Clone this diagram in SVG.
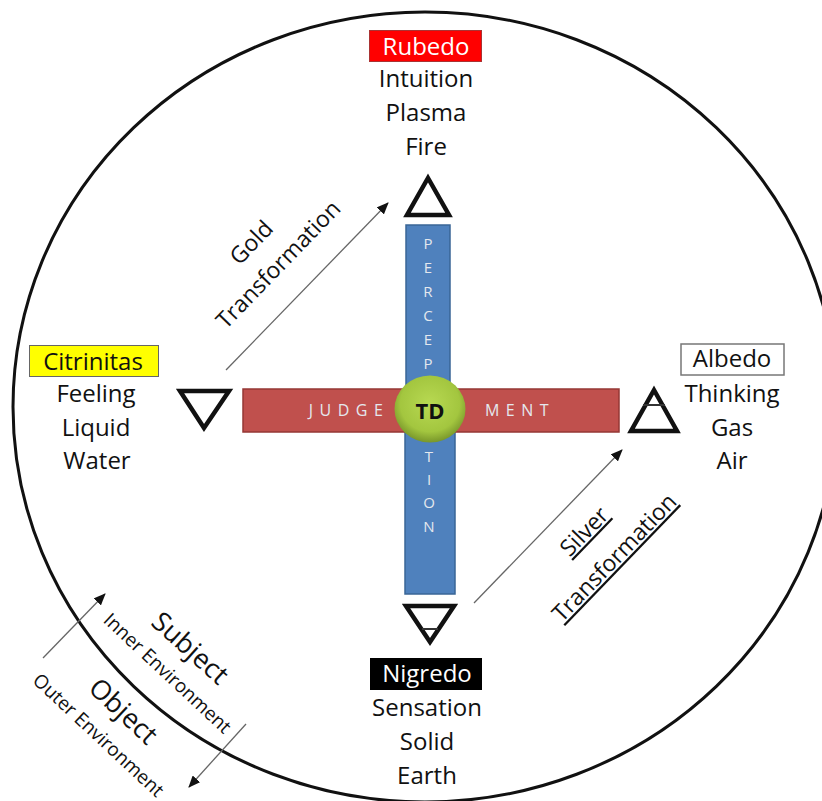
<svg xmlns="http://www.w3.org/2000/svg" width="822" height="801" viewBox="0 0 822 801">
<defs>
<radialGradient id="g" cx="50%" cy="42%" r="58%"><stop offset="0" stop-color="#b8d952"/><stop offset="0.72" stop-color="#a3c63f"/><stop offset="1" stop-color="#78962a"/></radialGradient>
<marker id="a" markerWidth="12" markerHeight="10" refX="11" refY="5" orient="auto" markerUnits="userSpaceOnUse"><path d="M0 0L12 5L0 10z" fill="#111"/></marker>
</defs>
<style>
text{font-family:"Open Sans","Noto Sans",sans-serif;fill:#111;text-anchor:middle}
.t{font-size:24px}
.r{font-size:23px}
.l{font-size:15px;fill:#e4e8ee}
.s{font-size:19px}
.c{stroke:#666;stroke-width:1.3;fill:none}
.sym{fill:none;stroke:#111;stroke-width:4.5;stroke-linejoin:miter}
.in{stroke:#333;stroke-width:2}
</style>
<g id="boundary"><ellipse cx="425" cy="407" rx="412" ry="395" fill="none" stroke="#111" stroke-width="3"/></g>
<g id="connectors">
<path class="c" d="M226 370L388 203" marker-end="url(#a)"/>
<path class="c" d="M474 603L622 450" marker-end="url(#a)"/>
<path class="c" d="M43 658L105 594" marker-end="url(#a)"/>
<path class="c" d="M246 724L189 787" marker-end="url(#a)"/>
</g>
<g id="perception"><path d="M406 225H450V409H455V594H405V409H406Z" fill="#4f81bd" stroke="#3a6596" stroke-width="1.5"/>
<text class="l" x="428" y="249">P</text><text class="l" x="428" y="273">E</text><text class="l" x="428" y="297">R</text><text class="l" x="428" y="321">C</text><text class="l" x="428" y="345">E</text><text class="l" x="428" y="369">P</text><text class="l" x="429" y="462">T</text><text class="l" x="429" y="485">I</text><text class="l" x="429" y="508">O</text><text class="l" x="429" y="532">N</text></g>
<g id="judgement"><rect x="243" y="389" width="376" height="43" fill="#c0504d" stroke="#953735" stroke-width="1.5"/>
<text class="l" x="349" y="416" style="font-size:16px;letter-spacing:6.5px">JUDGE</text><text class="l" x="520" y="416" style="font-size:16px;letter-spacing:6.5px">MENT</text></g>
<g id="td"><ellipse cx="430" cy="409" rx="35.5" ry="33.5" fill="url(#g)"/><text x="430" y="419" style="font-size:22px;font-weight:700">TD</text></g>
<g id="rubedo"><rect x="369.500" y="30.500" width="112" height="31" fill="#ff0000" stroke="#a33" stroke-width="1"/><text class="t" x="426" y="55" style="fill:#fff">Rubedo</text><text class="t" x="426" y="87">Intuition</text><text class="t" x="426" y="121">Plasma</text><text class="t" x="426" y="155">Fire</text><path class="sym" d="M428 178L449 215H407Z"/></g>
<g id="citrinitas"><rect x="29.500" y="345.500" width="129" height="31" fill="#ffff00" stroke="#666" stroke-width="1"/><text class="t" x="93" y="370">Citrinitas</text><text class="t" x="96" y="402">Feeling</text><text class="t" x="96" y="436">Liquid</text><text class="t" x="97" y="469">Water</text><path class="sym" d="M180 391H229L204 428Z"/></g>
<g id="albedo"><rect x="681" y="344" width="103" height="31" fill="#fff" stroke="#777" stroke-width="1.5"/><text class="t" x="732" y="367">Albedo</text><text class="t" x="732" y="402">Thinking</text><text class="t" x="732" y="436">Gas</text><text class="t" x="732" y="469">Air</text><path class="sym" d="M654 390L677 431H631Z"/><path class="in" d="M643 405H665"/></g>
<g id="nigredo"><rect x="370" y="658" width="112" height="32" fill="#000"/><text class="t" x="427" y="682" style="fill:#fff">Nigredo</text><text class="t" x="427" y="716">Sensation</text><text class="t" x="427" y="750">Solid</text><text class="t" x="427" y="784">Earth</text><path class="sym" d="M406 606H454L430 642Z"/><path class="in" d="M422 629H438"/></g>
<g id="gold"><text class="r" transform="translate(257 248) rotate(-46)">Gold</text><text class="r" transform="translate(284 270) rotate(-46)">Transformation</text></g>
<g id="silver"><text class="r" text-decoration="underline" transform="translate(590 537) rotate(-46)">Silver</text><text class="r" text-decoration="underline" transform="translate(620 563) rotate(-46)">Transformation</text></g>
<g id="subject"><text style="font-size:27px" transform="translate(184 655) rotate(42)">Subject</text><text class="s" transform="translate(163 678) rotate(43)">Inner Environment</text></g>
<g id="object"><text style="font-size:27px" transform="translate(117 718) rotate(43)">Object</text><text class="s" transform="translate(94 740) rotate(43)">Outer Environment</text></g>
</svg>
